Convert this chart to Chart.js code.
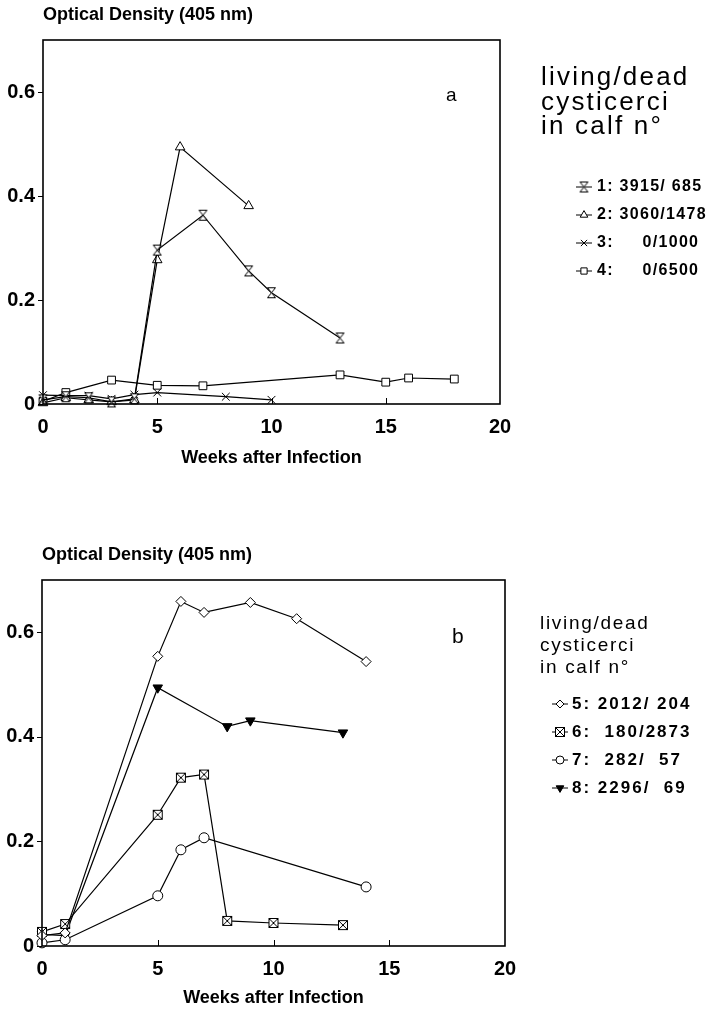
<!DOCTYPE html>
<html>
<head>
<meta charset="utf-8">
<script src="https://cdn.jsdelivr.net/npm/chart.js@4/dist/chart.umd.min.js"></script>
<style>
  html, body { margin: 0; padding: 0; background: #fff; }
  #wrap { position: relative; width: 716px; height: 1011px; }
  canvas { position: absolute; left: 0; }
  #charta { top: 0; }
  #chartb { top: 505px; }
</style>
</head>
<body>
<div id="wrap">
  <canvas id="charta" width="716" height="505"></canvas>
  <canvas id="chartb" width="716" height="506"></canvas>
</div>
<script>
const xTicks = [0, 5, 10, 15, 20];
const yTicks = [0, 0.2, 0.4, 0.6];

// panel a
const weeksCalf1 = [0, 1, 2, 3, 4, 5, 7, 9, 10, 13];
const odCalf1 = [0.008, 0.014, 0.012, 0.004, 0.01, 0.296, 0.363, 0.256, 0.214, 0.127];
const weeksCalf2 = [0, 1, 2, 3, 4, 5, 6, 9];
const odCalf2 = [0.002, 0.012, 0.008, 0.004, 0.008, 0.277, 0.494, 0.381];
const weeksCalf3 = [0, 1, 2, 3, 4, 5, 8, 10];
const odCalf3 = [0.017, 0.016, 0.016, 0.01, 0.018, 0.022, 0.014, 0.008];
const weeksCalf4 = [0, 1, 3, 5, 7, 13, 15, 16, 18];
const odCalf4 = [0.005, 0.022, 0.046, 0.036, 0.035, 0.056, 0.042, 0.05, 0.048];
const legendA = ["1: 3915/ 685", "2: 3060/1478", "3:     0/1000", "4:     0/6500"];

// panel b
const weeksCalf5 = [0, 1, 5, 6, 7, 9, 11, 14];
const odCalf5 = [0.02, 0.025, 0.554, 0.659, 0.638, 0.657, 0.626, 0.544];
const weeksCalf6 = [0, 1, 5, 6, 7, 8, 10, 13];
const odCalf6 = [0.027, 0.042, 0.251, 0.322, 0.328, 0.048, 0.044, 0.04];
const weeksCalf7 = [0, 1, 5, 6, 7, 14];
const odCalf7 = [0.006, 0.012, 0.096, 0.184, 0.207, 0.113];
const weeksCalf8 = [0, 1, 5, 8, 9, 13];
const odCalf8 = [0.022, 0.02, 0.494, 0.42, 0.431, 0.408];
const legendB = ["5: 2012/ 204", "6:  180/2873", "7:  282/  57", "8: 2296/  69"];

const header = ["living/dead", "cysticerci", "in calf n°"];
const FONT = "'Liberation Sans', Arial, Helvetica, sans-serif";

// marker shapes that chart.js has no built-in style for
function hourglass() {
  const c = document.createElement("canvas");
  c.width = 11; c.height = 13;
  const g = c.getContext("2d");
  g.fillStyle = "#fff"; g.strokeStyle = "#000"; g.lineWidth = 1;
  g.beginPath();
  g.moveTo(1.5, 1.5); g.lineTo(9.5, 1.5); g.lineTo(1.5, 11.5); g.lineTo(9.5, 11.5);
  g.closePath(); g.fill(); g.stroke();
  return c;
}
function squareX() {
  const c = document.createElement("canvas");
  c.width = 12; c.height = 12;
  const g = c.getContext("2d");
  g.fillStyle = "#fff"; g.strokeStyle = "#000"; g.lineWidth = 1;
  g.fillRect(1.5, 1.5, 9, 9);
  g.strokeRect(1.5, 1.5, 9, 9);
  g.beginPath();
  g.moveTo(1.5, 1.5); g.lineTo(10.5, 10.5);
  g.moveTo(10.5, 1.5); g.lineTo(1.5, 10.5);
  g.stroke();
  return c;
}

const pts = (xs, ys) => xs.map((v, i) => ({ x: v, y: ys[i] }));

function series(xs, ys, style, radius, extra) {
  return Object.assign({
    data: pts(xs, ys),
    borderColor: "#000",
    borderWidth: 1.2,
    pointStyle: style,
    pointRadius: radius,
    pointBackgroundColor: "#fff",
    pointBorderColor: "#000",
    pointBorderWidth: 1,
    tension: 0,
    clip: false,
  }, extra || {});
}

const decor = {
  id: "decor",
  afterDraw(chart, args, o) {
    const { ctx, chartArea: a, scales: { x, y } } = chart;
    ctx.save();
    ctx.strokeStyle = "#000";
    ctx.lineWidth = 1.6;
    ctx.strokeRect(a.left, a.top, a.right - a.left, a.bottom - a.top);

    // y ticks outside, x ticks inside
    ctx.lineWidth = 1;
    ctx.beginPath();
    yTicks.forEach(v => {
      const py = Math.round(y.getPixelForValue(v)) + 0.5;
      ctx.moveTo(a.left - 5, py); ctx.lineTo(a.left, py);
    });
    xTicks.slice(1, -1).forEach(v => {
      const px = Math.round(x.getPixelForValue(v)) + 0.5;
      ctx.moveTo(px, a.bottom); ctx.lineTo(px, a.bottom - 6);
    });
    ctx.stroke();

    ctx.fillStyle = "#000";
    ctx.textBaseline = "middle";
    ctx.textAlign = "left";
    ctx.font = "bold 18px " + FONT;
    ctx.fillText("Optical Density (405 nm)", a.left, o.titleY);
    ctx.textAlign = "center";
    ctx.fillText("Weeks after Infection", (a.left + a.right) / 2, o.xTitleY);

    ctx.textAlign = "left";
    ctx.font = o.tagSize + "px " + FONT;
    ctx.fillText(o.tag, o.tagX, o.tagY);

    // legend heading
    ctx.font = o.headSize + "px " + FONT;
    ctx.letterSpacing = o.headSpacing + "px";
    header.forEach((t, i) => ctx.fillText(t, o.headX, o.headY + i * o.headStep));

    // legend entries
    ctx.font = "bold " + o.entrySize + "px " + FONT;
    ctx.letterSpacing = o.entrySpacing + "px";
    chart.data.datasets.forEach((ds, i) => {
      const cy = o.rowY + i * o.rowStep;
      ctx.strokeStyle = "#000";
      ctx.lineWidth = 1;
      ctx.beginPath();
      ctx.moveTo(o.markX - 8, cy); ctx.lineTo(o.markX + 8, cy);
      ctx.stroke();
      ctx.fillStyle = ds.pointBackgroundColor;
      Chart.helpers.drawPoint(ctx, {
        pointStyle: ds.pointStyle,
        radius: ds.pointRadius * 0.8,
        rotation: ds.pointRotation || 0,
        borderWidth: 1,
      }, o.markX, cy);
      ctx.fillStyle = "#000";
      ctx.fillText(o.labels[i], o.textX, cy);
    });
    ctx.restore();
  },
};

function makeChart(id, datasets, o) {
  return new Chart(document.getElementById(id), {
    type: "line",
    data: { datasets },
    options: {
      responsive: false,
      animation: false,
      layout: { padding: { top: o.top, right: o.right, bottom: 0, left: 0 } },
      plugins: { legend: { display: false }, tooltip: { enabled: false }, decor: o },
      scales: {
        x: {
          type: "linear",
          min: 0,
          max: 20,
          afterBuildTicks: s => { s.ticks = xTicks.map(v => ({ value: v })); },
          afterFit: s => { s.height = o.xAxisHeight; },
          grid: { display: false, drawTicks: false },
          border: { display: false },
          ticks: { padding: 11, maxRotation: 0, color: "#000", font: { family: FONT, size: 20, weight: "bold" } },
        },
        y: {
          min: 0,
          max: 0.7,
          afterBuildTicks: s => { s.ticks = yTicks.map(v => ({ value: v })); },
          afterFit: s => { s.width = o.left; },
          grid: { display: false, drawTicks: false },
          border: { display: false },
          ticks: {
            padding: 8,
            color: "#000",
            font: { family: FONT, size: 20, weight: "bold" },
            callback: v => (v === 0 ? "0" : v.toFixed(1)),
          },
        },
      },
    },
    plugins: [decor],
  });
}

makeChart("charta", [
  series(weeksCalf1, odCalf1, hourglass(), 6),
  series(weeksCalf2, odCalf2, "triangle", 5.5),
  series(weeksCalf3, odCalf3, "crossRot", 5.5),
  series(weeksCalf4, odCalf4, "rect", 5.5),
], {
  top: 40, right: 216, left: 43, xAxisHeight: 101,
  titleY: 15, xTitleY: 458,
  tag: "a", tagX: 446, tagY: 96, tagSize: 19,
  headX: 541, headY: 78, headStep: 24.5, headSize: 26, headSpacing: 2.2,
  rowY: 187, rowStep: 28, markX: 584, textX: 597,
  entrySize: 16, entrySpacing: 1.3, labels: legendA,
});

makeChart("chartb", [
  series(weeksCalf5, odCalf5, "rectRot", 5),
  series(weeksCalf6, odCalf6, squareX(), 6),
  series(weeksCalf7, odCalf7, "circle", 5),
  series(weeksCalf8, odCalf8, "triangle", 5.5, { pointRotation: 180, pointBackgroundColor: "#000" }),
], {
  top: 75, right: 211, left: 42, xAxisHeight: 65,
  titleY: 50, xTitleY: 493,
  tag: "b", tagX: 452, tagY: 132, tagSize: 21,
  headX: 540, headY: 119, headStep: 22, headSize: 19, headSpacing: 1.7,
  rowY: 199, rowStep: 28, markX: 560, textX: 572,
  entrySize: 17, entrySpacing: 2, labels: legendB,
});
</script>
</body>
</html>
